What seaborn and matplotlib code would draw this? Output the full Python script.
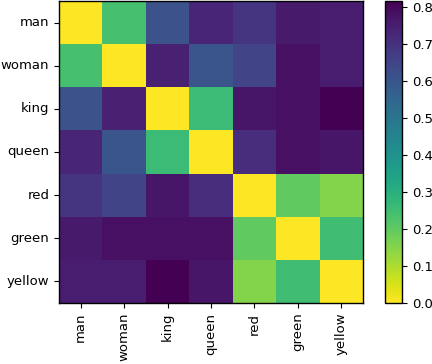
import numpy as np
import pandas as pd
import matplotlib
matplotlib.use("Agg")
import matplotlib.pyplot as plt
import seaborn as sns

words = ["man", "woman", "king", "queen", "red", "green", "yellow"]

# upper-triangle distances, row by row (matrix is symmetric, diagonal is 0)
man_row = [0.24, 0.61, 0.73, 0.69, 0.76, 0.75]
woman_row = [0.74, 0.60, 0.65, 0.78, 0.75]
king_row = [0.26, 0.77, 0.78, 0.815]
queen_row = [0.71, 0.78, 0.77]
red_row = [0.20, 0.15]
green_row = [0.25]

upper_rows = [man_row, woman_row, king_row, queen_row, red_row, green_row]
cbar_ticks = [0.0, 0.1, 0.2, 0.3, 0.4, 0.5, 0.6, 0.7, 0.8]

n = len(words)
dist = np.zeros((n, n))
for i, row in enumerate(upper_rows):
    for k, v in enumerate(row):
        j = i + 1 + k
        dist[i, j] = v
        dist[j, i] = v

df = pd.DataFrame(dist, index=words, columns=words)

plt.rcParams['font.size'] = 9.5

fig = plt.figure(figsize=(4.32, 3.64), dpi=100)
ax = fig.add_axes([59 / 432, 61 / 364, 304 / 432, 302 / 364])
cax = fig.add_axes([385 / 432, 61 / 364, 17 / 432, 302 / 364])

sns.heatmap(df, cmap="viridis_r", vmin=0, vmax=0.815, ax=ax, cbar_ax=cax,
            cbar_kws={"ticks": cbar_ticks})

for side in ["left", "bottom", "right", "top"]:
    ax.spines[side].set_visible(True)
    ax.spines[side].set_color("black")
    ax.spines[side].set_linewidth(1.0)
ax.tick_params(axis="both", length=3.5, width=0.8, colors="black", labelsize=9.5)
ax.set_xticklabels(words, rotation=90)
ax.set_yticklabels(words, rotation=0)

cbar = ax.collections[0].colorbar
cbar.outline.set_linewidth(1.0)
cbar.outline.set_edgecolor("black")
cbar.ax.tick_params(length=3.5, width=0.8, labelsize=9.5)
cbar.ax.set_yticklabels([f"{t:.1f}" for t in cbar_ticks])

fig.savefig("out.png", dpi=100)
